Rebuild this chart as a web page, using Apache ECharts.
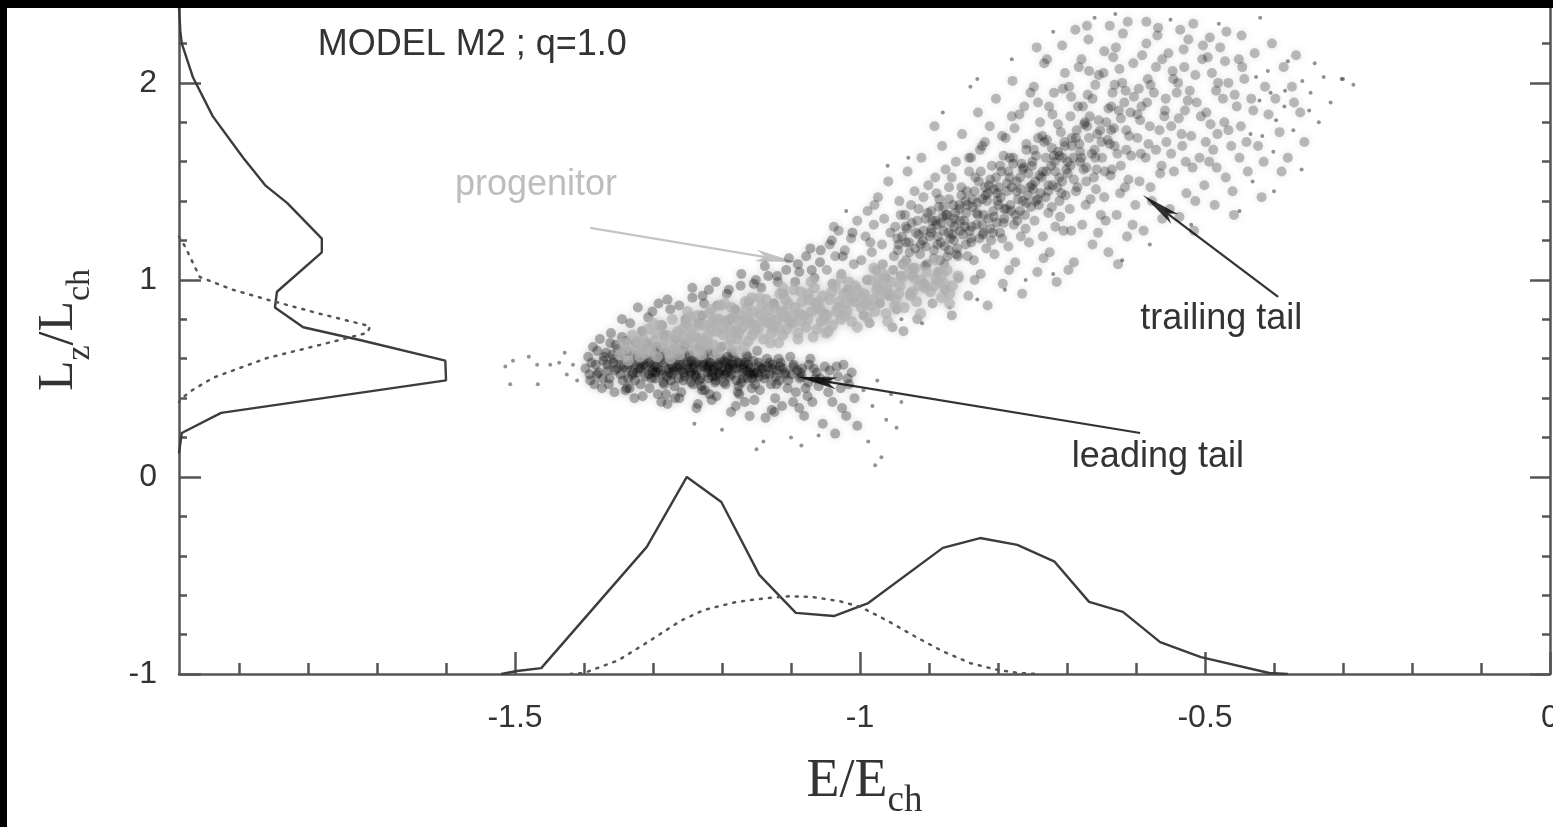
<!DOCTYPE html>
<html>
<head>
<meta charset="utf-8">
<title>MODEL M2 ; q=1.0</title>
<script src="https://cdn.jsdelivr.net/npm/echarts@6/dist/echarts.min.js"></script>
<style>
  html, body { margin: 0; padding: 0; background: #000; overflow: hidden; }
  #chart { position: absolute; left: 7px; top: 8px; width: 1546px; height: 819px; background: #fff; }
</style>
</head>
<body>
<div id="chart"></div>
<script>
// axis ticks
const xMajor = [-1.5, -1, -0.5, 0];
const xMinor = [-1.9, -1.8, -1.7, -1.6, -1.4, -1.3, -1.2, -1.1, -0.9, -0.8, -0.7, -0.6, -0.4, -0.3, -0.2, -0.1];
const yMajor = [-1, 0, 1, 2];
const yMinor = [-0.8, -0.6, -0.4, -0.2, 0.2, 0.4, 0.6, 0.8, 1.2, 1.4, 1.6, 1.8, 2.2];

// histogram of E (drawn on the -1..0 strip)  [E, level]
const eHistAll = [[-1.52,-1.0],[-1.497,-0.985],[-1.462,-0.97],[-1.309,-0.355],[-1.251,0.0],[-1.201,-0.127],[-1.146,-0.497],[-1.093,-0.69],[-1.038,-0.706],[-0.988,-0.64],[-0.88,-0.36],[-0.826,-0.31],[-0.772,-0.345],[-0.718,-0.43],[-0.668,-0.634],[-0.619,-0.685],[-0.565,-0.838],[-0.506,-0.914],[-0.407,-0.995],[-0.38,-1.0]];
const eHistProg = [[-1.42,-1.0],[-1.40,-0.995],[-1.35,-0.93],[-1.304,-0.83],[-1.26,-0.73],[-1.226,-0.675],[-1.18,-0.635],[-1.136,-0.615],[-1.10,-0.605],[-1.068,-0.61],[-1.03,-0.63],[-0.999,-0.66],[-0.96,-0.73],[-0.92,-0.81],[-0.88,-0.885],[-0.84,-0.945],[-0.80,-0.98],[-0.77,-0.995],[-0.74,-1.0]];

// histogram of Lz (drawn against the left edge)  [level, Lz]
const lHistAll = [[-1.987,2.38],[-1.985,2.26],[-1.983,2.2],[-1.967,2.03],[-1.938,1.83],[-1.894,1.62],[-1.862,1.48],[-1.83,1.39],[-1.78,1.21],[-1.78,1.14],[-1.845,0.94],[-1.848,0.86],[-1.807,0.76],[-1.725,0.695],[-1.601,0.59],[-1.60,0.49],[-1.926,0.325],[-1.983,0.223],[-1.987,0.12]];
const lHistProg = [[-1.987,1.22],[-1.978,1.168],[-1.957,1.015],[-1.909,0.95],[-1.859,0.9],[-1.787,0.832],[-1.71,0.765],[-1.714,0.731],[-1.783,0.67],[-1.859,0.604],[-1.938,0.503],[-1.967,0.442],[-1.983,0.40],[-1.987,0.38]];

// particles  [E, Lz]
const leadingTail = [
  [-1.398,0.55],[-1.394,0.61],[-1.391,0.49],[-1.387,0.66],[-1.383,0.57],[-1.381,0.52],[-1.377,0.70],[-1.374,0.45],[-1.372,0.59],[-1.368,0.63],[-1.366,0.54],[-1.363,0.50],[-1.361,0.73],[-1.358,0.58],[-1.356,0.43],[-1.354,0.67],[-1.352,0.55],[-1.371,0.61],[-1.389,0.58],[-1.379,0.53],[-1.359,0.62],[-1.364,0.47],
  [-1.349,0.60],[-1.347,0.52],[-1.345,0.71],[-1.342,0.56],[-1.340,0.44],[-1.338,0.64],[-1.336,0.50],[-1.333,0.78],[-1.331,0.58],[-1.329,0.53],[-1.327,0.40],[-1.325,0.68],[-1.322,0.61],[-1.320,0.55],[-1.318,0.47],[-1.316,0.74],[-1.314,0.57],[-1.311,0.51],[-1.309,0.63],[-1.307,0.81],[-1.305,0.45],[-1.303,0.59],[-1.301,0.54],[-1.343,0.62],[-1.335,0.57],[-1.326,0.49],[-1.317,0.66],[-1.312,0.60],[-1.306,0.52],[-1.339,0.69],
  [-1.299,0.57],[-1.297,0.50],[-1.295,0.66],[-1.293,0.42],[-1.291,0.60],[-1.289,0.54],[-1.287,0.77],[-1.285,0.48],[-1.283,0.58],[-1.281,0.63],[-1.279,0.37],[-1.277,0.55],[-1.275,0.85],[-1.273,0.52],[-1.271,0.61],[-1.269,0.46],[-1.267,0.70],[-1.265,0.56],[-1.263,0.50],[-1.261,0.59],[-1.259,0.43],[-1.257,0.64],[-1.255,0.53],[-1.253,0.80],[-1.251,0.57],[-1.296,0.53],[-1.288,0.59],[-1.280,0.51],[-1.272,0.56],[-1.264,0.62],[-1.256,0.49],[-1.284,0.72],[-1.268,0.40],[-1.292,0.88],
  [-1.249,0.55],[-1.247,0.61],[-1.245,0.48],[-1.243,0.91],[-1.241,0.57],[-1.239,0.52],[-1.237,0.35],[-1.235,0.59],[-1.233,0.66],[-1.231,0.50],[-1.229,0.82],[-1.227,0.56],[-1.225,0.44],[-1.223,0.60],[-1.221,0.53],[-1.219,0.95],[-1.217,0.58],[-1.215,0.39],[-1.213,0.54],[-1.211,0.63],[-1.209,0.49],[-1.207,0.87],[-1.205,0.57],[-1.203,0.52],[-1.201,0.60],[-1.246,0.53],[-1.238,0.58],[-1.230,0.46],[-1.222,0.55],[-1.214,0.51],[-1.206,0.56],[-1.234,0.78],[-1.218,0.42],[-1.226,0.88],
  [-1.199,0.54],[-1.197,0.59],[-1.195,0.47],[-1.193,0.93],[-1.191,0.56],[-1.189,0.51],[-1.187,0.33],[-1.185,0.61],[-1.183,0.55],[-1.181,0.85],[-1.179,0.49],[-1.177,0.58],[-1.175,0.42],[-1.173,0.97],[-1.171,0.53],[-1.169,0.57],[-1.167,0.38],[-1.165,0.62],[-1.163,0.50],[-1.161,0.89],[-1.159,0.55],[-1.157,0.45],[-1.155,0.59],[-1.153,0.52],[-1.151,1.00],[-1.196,0.52],[-1.184,0.57],[-1.172,0.48],[-1.164,0.54],[-1.156,0.50],[-1.188,0.80],[-1.160,0.31],
  [-1.149,0.53],[-1.147,0.58],[-1.145,0.44],[-1.143,0.96],[-1.141,0.55],[-1.139,0.50],[-1.137,0.30],[-1.135,0.60],[-1.133,1.02],[-1.131,0.52],[-1.129,0.47],[-1.127,0.57],[-1.125,0.88],[-1.123,0.40],[-1.121,0.54],[-1.119,0.99],[-1.117,0.49],[-1.115,0.58],[-1.113,0.36],[-1.111,0.93],[-1.109,0.53],[-1.107,1.05],[-1.105,0.45],[-1.146,0.51],[-1.134,0.56],[-1.122,0.51],[-1.112,0.55],[-1.128,0.34],
  [-1.099,0.52],[-1.096,0.57],[-1.093,0.43],[-1.090,1.08],[-1.087,0.50],[-1.084,0.55],[-1.081,0.31],[-1.078,1.12],[-1.075,0.48],[-1.072,0.60],[-1.069,0.38],[-1.066,1.01],[-1.063,0.53],[-1.060,0.46],[-1.057,1.15],[-1.054,0.27],[-1.051,0.56],[-1.094,0.99],[-1.085,0.51],[-1.076,0.41],[-1.067,0.55],[-1.058,0.50],[-1.088,0.35],[-1.070,1.05],
  [-1.048,0.49],[-1.044,0.54],[-1.040,0.38],[-1.036,0.22],[-1.032,0.51],[-1.028,0.45],[-1.024,0.57],[-1.020,0.31],[-1.016,0.47],[-1.012,0.53],[-1.008,0.40],[-1.004,0.26],[-1.046,0.43],[-1.034,0.56],[-1.018,0.50],[-1.026,0.35],
  [-1.318,0.55],[-1.305,0.58],[-1.296,0.56],[-1.286,0.52],[-1.278,0.60],[-1.270,0.54],[-1.262,0.57],[-1.254,0.51],[-1.244,0.59],[-1.236,0.54],[-1.228,0.58],[-1.220,0.50],[-1.212,0.56],[-1.204,0.53],[-1.194,0.58],[-1.186,0.52],[-1.178,0.55],[-1.170,0.50],[-1.162,0.57],[-1.154,0.53],[-1.290,0.63],[-1.274,0.49],[-1.258,0.61],[-1.242,0.47],[-1.226,0.62],[-1.210,0.48],[-1.192,0.61],[-1.176,0.46],[-1.330,0.52],[-1.346,0.57],
  [-1.392,0.52],[-1.357,0.60],[-1.381,0.64],[-1.344,0.49],[-1.366,0.57],[-1.329,0.62],[-1.373,0.50],[-1.338,0.55],[-1.315,0.59],[-1.351,0.65],
  [-1.302,0.50],[-1.323,0.53],[-1.289,0.61],[-1.311,0.56],[-1.276,0.53],[-1.297,0.63],[-1.263,0.55],[-1.284,0.47],[-1.249,0.58],[-1.271,0.64],
  [-1.238,0.51],[-1.259,0.54],[-1.226,0.57],[-1.247,0.62],[-1.215,0.53],[-1.233,0.49],[-1.203,0.59],[-1.221,0.64],[-1.191,0.55],[-1.209,0.51],
  [-1.182,0.60],[-1.197,0.48],[-1.169,0.55],[-1.186,0.63],[-1.158,0.52],[-1.174,0.58],[-1.146,0.56],[-1.163,0.61],[-1.137,0.52],[-1.152,0.47],
  [-1.127,0.55],[-1.118,0.60],[-1.108,0.52],[-1.097,0.56],[-1.086,0.53],[-1.074,0.57],[-1.065,0.50],[-1.121,0.47],[-1.101,0.61],[-1.079,0.45],
  [-1.385,0.47],[-1.362,0.68],[-1.334,0.45],[-1.308,0.68],[-1.281,0.42],[-1.254,0.67],[-1.229,0.44],[-1.201,0.66],[-1.177,0.43],[-1.149,0.64],
  [-1.319,0.58],[-1.293,0.55],[-1.267,0.59],[-1.241,0.55],[-1.217,0.58],[-1.193,0.53],[-1.167,0.58],[-1.142,0.55],[-1.116,0.56],[-1.091,0.54],
  [-1.355,0.54],[-1.327,0.57],[-1.300,0.53],[-1.274,0.57],[-1.245,0.52],[-1.219,0.56],[-1.189,0.57],[-1.160,0.53],[-1.131,0.58],[-1.104,0.49],
  [-1.345,0.80],[-1.322,0.86],[-1.301,0.84],[-1.279,0.90],[-1.262,0.87],[-1.243,0.96],[-1.228,0.92],[-1.209,0.99],[-1.190,0.95],[-1.172,1.03],
  [-1.154,0.98],[-1.138,1.07],[-1.120,1.02],[-1.103,1.11],[-1.088,1.04],[-1.072,1.16],[-1.058,1.09],[-1.041,1.20],[-1.025,1.12],[-1.011,1.24],
  [-1.338,0.45],[-1.315,0.41],[-1.288,0.38],[-1.262,0.40],[-1.235,0.37],[-1.208,0.41],[-1.180,0.36],[-1.153,0.39],[-1.124,0.33],[-1.097,0.38]
];
const trailingTail = [
  [-1.048,1.05],[-1.044,1.18],[-1.040,0.98],[-1.036,1.12],[-1.031,1.25],[-1.027,1.03],[-1.022,1.15],[-1.018,0.95],[-1.013,1.21],[-1.009,1.08],[-1.004,1.30],[-1.038,1.27],
  [-0.998,1.10],[-0.995,0.82],[-0.992,1.22],[-0.989,1.35],[-0.986,0.78],[-0.983,1.14],[-0.980,1.28],[-0.977,1.05],[-0.974,1.42],[-0.971,0.88],[-0.968,1.18],[-0.965,1.31],[-0.962,1.01],[-0.959,1.50],[-0.956,1.24],[-0.953,0.76],[-0.951,1.12],[-0.990,1.00],[-0.979,1.38],[-0.967,1.08],[-0.958,0.92],[-0.985,1.19],
  [-0.949,1.27],[-0.947,0.85],[-0.945,1.15],[-0.943,1.40],[-0.941,1.02],[-0.939,1.22],[-0.937,0.74],[-0.935,1.33],[-0.933,1.10],[-0.931,1.55],[-0.929,1.19],[-0.927,0.93],[-0.925,1.29],[-0.923,1.06],[-0.921,1.45],[-0.919,1.24],[-0.917,0.80],[-0.915,1.36],[-0.913,1.13],[-0.911,1.62],[-0.909,1.20],[-0.907,0.98],[-0.905,1.31],[-0.903,1.08],[-0.901,1.48],[-0.944,1.18],[-0.932,1.26],[-0.920,1.16],[-0.908,1.25],[-0.926,1.38],
  [-0.899,1.22],[-0.897,1.35],[-0.895,0.88],[-0.893,1.15],[-0.891,1.52],[-0.889,1.28],[-0.887,1.04],[-0.885,1.41],[-0.883,1.19],[-0.881,1.68],[-0.879,1.25],[-0.877,0.95],[-0.875,1.33],[-0.873,1.12],[-0.871,1.47],[-0.869,1.21],[-0.867,0.82],[-0.865,1.38],[-0.863,1.27],[-0.861,1.60],[-0.859,1.16],[-0.857,1.01],[-0.855,1.30],[-0.853,1.43],[-0.851,1.23],[-0.896,1.26],[-0.888,1.18],[-0.880,1.32],[-0.872,1.24],[-0.864,1.20],[-0.856,1.36],[-0.884,1.10],[-0.868,1.29],[-0.892,1.78],[-0.876,1.56],[-0.860,1.13],[-0.852,1.74],[-0.878,1.08],
  [-0.849,1.30],[-0.847,1.18],[-0.845,1.45],[-0.843,0.92],[-0.841,1.25],[-0.839,1.62],[-0.837,1.37],[-0.835,1.10],[-0.833,1.52],[-0.831,1.28],[-0.829,1.85],[-0.827,1.21],[-0.825,1.03],[-0.823,1.41],[-0.821,1.33],[-0.819,1.70],[-0.817,1.16],[-0.815,0.87],[-0.813,1.48],[-0.811,1.26],[-0.809,1.58],[-0.807,1.35],[-0.805,1.13],[-0.803,1.92],[-0.801,1.40],[-0.846,1.34],[-0.838,1.27],[-0.830,1.39],[-0.822,1.23],[-0.814,1.31],[-0.806,1.46],[-0.842,1.55],[-0.826,1.66],[-0.810,1.20],[-0.834,1.00],[-0.818,1.43],[-0.802,1.29],[-0.844,1.12],[-0.828,1.50],[-0.812,1.78],
  [-0.799,1.38],[-0.797,1.24],[-0.795,1.55],[-0.793,0.98],[-0.791,1.31],[-0.789,1.72],[-0.787,1.45],[-0.785,1.17],[-0.783,1.62],[-0.781,1.35],[-0.779,2.01],[-0.777,1.28],[-0.775,1.09],[-0.773,1.50],[-0.771,1.41],[-0.769,1.84],[-0.767,1.22],[-0.765,0.93],[-0.763,1.57],[-0.761,1.33],[-0.759,1.66],[-0.757,1.43],[-0.755,1.19],[-0.753,1.95],[-0.751,1.48],[-0.796,1.42],[-0.788,1.36],[-0.780,1.47],[-0.772,1.30],[-0.764,1.40],[-0.756,1.54],[-0.792,1.63],[-0.776,1.77],[-0.760,1.26],[-0.784,1.05],[-0.768,1.52],[-0.752,1.37],[-0.794,1.21],[-0.778,1.59],[-0.762,1.88],
  [-0.749,1.46],[-0.747,1.30],[-0.745,1.63],[-0.743,1.04],[-0.741,1.38],[-0.739,1.80],[-0.737,1.52],[-0.735,1.22],[-0.733,1.70],[-0.731,1.42],[-0.729,2.12],[-0.727,1.34],[-0.725,1.14],[-0.723,1.58],[-0.721,1.48],[-0.719,1.95],[-0.717,1.27],[-0.715,0.99],[-0.713,1.65],[-0.711,1.40],[-0.709,1.75],[-0.707,1.50],[-0.705,1.25],[-0.703,2.05],[-0.701,1.56],[-0.746,1.50],[-0.738,1.44],[-0.730,1.55],[-0.722,1.37],[-0.714,1.47],[-0.706,1.62],[-0.742,1.72],[-0.726,1.88],[-0.710,1.32],[-0.734,1.11],[-0.718,1.60],[-0.702,1.43],[-0.744,2.18],
  [-0.699,1.54],[-0.696,1.36],[-0.693,1.72],[-0.690,1.09],[-0.687,1.45],[-0.684,1.88],[-0.681,1.60],[-0.678,1.28],[-0.675,1.79],[-0.672,1.50],[-0.669,2.22],[-0.666,1.41],[-0.663,1.18],[-0.660,1.66],[-0.657,1.56],[-0.654,2.04],[-0.651,1.33],[-0.697,1.98],[-0.691,1.62],[-0.685,1.47],[-0.679,2.12],[-0.673,1.38],[-0.667,1.83],[-0.661,1.52],[-0.655,1.24],[-0.694,1.25],[-0.682,1.69],[-0.670,1.94],[-0.658,1.46],[-0.688,2.27],[-0.676,1.56],[-0.664,1.64],[-0.652,1.76],[-0.698,1.05],
  [-0.649,1.62],[-0.646,1.42],[-0.643,1.80],[-0.640,1.14],[-0.637,1.53],[-0.634,1.95],[-0.631,1.68],[-0.628,1.33],[-0.625,1.86],[-0.622,1.58],[-0.619,2.25],[-0.616,1.47],[-0.613,1.22],[-0.610,1.73],[-0.607,1.63],[-0.604,2.10],[-0.601,1.38],[-0.647,2.05],[-0.641,1.71],[-0.635,1.56],[-0.629,2.18],[-0.623,1.44],[-0.617,1.90],[-0.611,1.51],[-0.605,1.28],[-0.644,1.30],[-0.632,1.77],[-0.620,2.00],[-0.608,1.85],[-0.638,2.29],[-0.626,1.08],[-0.614,1.66],
  [-0.598,1.72],[-0.595,1.50],[-0.592,1.88],[-0.589,1.25],[-0.586,1.62],[-0.583,2.02],[-0.580,1.78],[-0.577,1.40],[-0.574,1.95],[-0.571,1.66],[-0.568,2.28],[-0.565,1.54],[-0.562,1.31],[-0.559,1.83],[-0.556,1.70],[-0.553,2.15],[-0.596,1.97],[-0.594,1.81],[-0.593,1.64],[-0.585,2.20],[-0.584,1.90],[-0.579,1.47],[-0.571,2.08],[-0.563,1.58],[-0.557,1.92],[-0.551,1.36],
  [-0.549,1.78],[-0.545,1.55],[-0.541,1.95],[-0.537,1.32],[-0.533,1.68],[-0.530,2.08],[-0.529,1.86],[-0.528,1.60],[-0.527,1.44],[-0.524,2.22],[-0.520,1.73],[-0.516,1.25],[-0.512,1.90],[-0.508,1.62],[-0.504,2.12],[-0.501,1.48],[-0.546,2.02],[-0.538,1.82],[-0.531,2.17],[-0.522,1.96],[-0.514,1.40],[-0.506,1.83],
  [-0.498,1.85],[-0.494,1.60],[-0.490,2.05],[-0.486,1.38],[-0.482,1.74],[-0.478,2.18],[-0.474,1.92],[-0.470,1.52],[-0.466,2.00],[-0.462,1.68],[-0.458,1.33],[-0.454,1.88],[-0.451,2.12],[-0.496,2.13],[-0.484,1.96],[-0.472,1.80],[-0.460,1.45],[-0.488,1.66],
  [-0.448,1.78],[-0.443,2.02],[-0.438,1.55],[-0.433,1.92],[-0.428,2.15],[-0.423,1.68],[-0.418,1.42],[-0.413,1.98],[-0.408,1.84],[-0.403,2.20],[-0.440,1.70],[-0.430,1.86],[-0.415,1.60],
  [-0.398,1.92],[-0.392,1.75],[-0.386,2.08],[-0.380,1.62],[-0.374,1.98],[-0.368,2.14],[-0.362,1.85],[-0.356,1.70],[-0.389,1.55],[-0.371,1.90],
  [-0.905,1.17],[-0.895,1.30],[-0.887,1.22],[-0.879,1.37],[-0.871,1.15],[-0.863,1.31],[-0.855,1.25],[-0.847,1.40],[-0.839,1.21],[-0.831,1.34],[-0.823,1.28],[-0.815,1.44],[-0.807,1.24],[-0.799,1.47],[-0.791,1.36],[-0.783,1.52],[-0.775,1.33],[-0.767,1.46],[-0.759,1.39],[-0.751,1.58],[-0.743,1.41],[-0.735,1.55],[-0.727,1.45],[-0.719,1.63],[-0.711,1.52],[-0.703,1.68],[-0.695,1.58],[-0.687,1.72],[-0.679,1.62],[-0.671,1.78],
  [-0.952,1.05],[-0.946,1.21],[-0.938,1.08],[-0.934,1.27],[-0.928,1.14],[-0.923,1.02],[-0.917,1.30],[-0.912,1.18],[-0.906,1.07],[-0.902,1.34],
  [-0.897,1.24],[-0.893,1.11],[-0.886,1.37],[-0.882,1.29],[-0.877,1.17],[-0.871,1.41],[-0.866,1.23],[-0.862,1.34],[-0.858,1.12],[-0.853,1.47],
  [-0.848,1.27],[-0.844,1.38],[-0.839,1.19],[-0.834,1.45],[-0.829,1.33],[-0.825,1.55],[-0.821,1.24],[-0.816,1.40],[-0.811,1.51],[-0.806,1.32],
  [-0.801,1.44],[-0.797,1.58],[-0.792,1.29],[-0.787,1.49],[-0.782,1.38],[-0.778,1.62],[-0.773,1.45],[-0.768,1.35],[-0.764,1.56],[-0.759,1.69],
  [-0.754,1.47],[-0.750,1.60],[-0.745,1.40],[-0.740,1.53],[-0.736,1.73],[-0.731,1.62],[-0.727,1.48],[-0.722,1.67],[-0.717,1.55],[-0.713,1.79],
  [-0.708,1.44],[-0.704,1.70],[-0.699,1.60],[-0.695,1.83],[-0.690,1.51],[-0.686,1.76],[-0.681,1.65],[-0.677,1.88],[-0.672,1.57],[-0.668,1.72],
  [-0.663,1.92],[-0.659,1.62],[-0.654,1.81],[-0.650,1.70],[-0.645,1.55],[-0.640,1.87],[-0.636,1.76],[-0.631,1.99],[-0.627,1.64],[-0.622,1.82],
  [-0.933,1.19],[-0.915,1.23],[-0.891,1.30],[-0.874,1.33],[-0.856,1.38],[-0.837,1.41],[-0.819,1.47],[-0.803,1.52],[-0.785,1.55],[-0.766,1.59],
  [-0.748,1.66],[-0.729,1.71],[-0.711,1.63],[-0.693,1.68],[-0.674,1.80],[-0.656,1.74],[-0.638,1.69],[-0.889,1.44],[-0.842,1.62],[-0.794,1.73],
  [-0.941,1.33],[-0.908,1.42],[-0.867,1.52],[-0.823,1.68],[-0.780,1.83],[-0.742,1.90],[-0.706,1.97],[-0.668,2.06],[-0.633,2.13],[-0.615,1.96],
  [-0.748,1.98],[-0.733,2.10],[-0.721,1.84],[-0.707,2.19],[-0.694,1.93],[-0.683,2.08],[-0.671,2.29],[-0.659,1.99],[-0.646,2.16],[-0.636,1.88],
  [-0.624,2.07],[-0.612,2.31],[-0.603,1.93],[-0.591,2.14],[-0.579,1.99],[-0.569,2.24],[-0.558,1.86],[-0.547,2.06],[-0.536,2.27],[-0.525,1.91],
  [-0.514,2.04],[-0.503,2.19],[-0.492,1.79],[-0.481,2.00],[-0.469,2.26],[-0.457,1.94],[-0.446,2.08],
  [-0.614,1.76],[-0.598,1.84],[-0.582,1.69],[-0.566,1.76],[-0.549,1.64],
  [-0.534,1.74],[-0.518,1.57],[-0.499,1.70],[-0.483,1.57],[-0.466,1.76],[-0.450,1.62],
  [-0.585,2.31],[-0.562,2.12],[-0.539,2.00],[-0.517,2.30],[-0.493,2.23],[-0.471,2.11],[-0.447,2.24]
];
// sparse outskirts: far left of the leading tail, low-Lz spray, right edge of the trailing tail
const strays = [
  [-1.514,0.56],[-1.503,0.59],[-1.480,0.61],[-1.468,0.57],[-1.449,0.57],[-1.507,0.47],[-1.467,0.47],[-1.428,0.63],[-1.416,0.57],[-1.425,0.52],[-1.410,0.49],[-1.436,0.58],
  [-0.995,0.44],[-0.988,0.18],[-0.982,0.36],[-0.975,0.49],[-0.969,0.10],[-0.962,0.29],[-0.955,0.42],[-0.947,0.25],[-0.940,0.38],[-0.978,0.06],
  [-1.140,0.18],[-1.150,0.14],[-1.100,0.20],[-1.085,0.16],[-1.060,0.21],[-1.200,0.24],[-1.240,0.27],
  [-0.66,2.33],[-0.63,2.35],[-0.55,2.32],[-0.48,2.30],[-0.42,2.33],[-0.72,2.26],[-0.78,2.12],[-0.83,2.02],
  [-0.93,1.62],[-0.96,1.58],[-1.02,1.35],[-0.88,1.85],[-0.84,1.98],
  [-0.94,0.80],[-0.91,0.78],[-0.87,0.86],[-0.83,0.90],[-0.79,0.95],[-0.76,1.00],[-0.72,1.03],
  [-0.36,1.56],[-0.40,1.45],[-0.45,1.35],[-0.52,1.28],[-0.58,1.18],[-0.62,1.10],[-0.30,2.02],
  [-0.347,1.95],[-0.341,2.10],[-0.335,1.80],[-0.328,2.03],[-0.318,1.90],[-0.302,2.02],[-0.285,1.99],
  [-0.434,1.74],[-0.431,1.50],[-0.417,1.73],[-0.401,1.65],[-0.385,1.88],[-0.426,2.03],[-0.405,1.95],[-0.380,2.11],
  [-0.397,1.81],[-0.384,1.96],[-0.372,1.76],[-0.359,2.01],[-0.349,1.86],[-0.421,1.91],[-0.409,2.06]
];
const progenitor = [
  [-1.348,0.62],[-1.342,0.68],[-1.336,0.59],[-1.330,0.72],[-1.325,0.65],[-1.319,0.61],[-1.314,0.70],[-1.308,0.75],
  [-1.303,0.64],[-1.298,0.69],[-1.294,0.61],[-1.290,0.77],[-1.285,0.66],[-1.281,0.72],[-1.277,0.63],[-1.272,0.80],[-1.268,0.68],[-1.264,0.74],[-1.259,0.65],[-1.255,0.71],[-1.252,0.78],[-1.262,0.62],
  [-1.248,0.68],[-1.244,0.75],[-1.240,0.64],[-1.236,0.82],[-1.232,0.70],[-1.228,0.66],[-1.224,0.77],[-1.220,0.72],[-1.216,0.85],[-1.212,0.67],[-1.208,0.74],[-1.204,0.80],[-1.246,0.81],[-1.238,0.71],[-1.226,0.69],[-1.214,0.78],[-1.206,0.63],[-1.218,0.83],
  [-1.198,0.72],[-1.194,0.79],[-1.190,0.67],[-1.186,0.86],[-1.182,0.74],[-1.178,0.70],[-1.174,0.82],[-1.170,0.76],[-1.166,0.89],[-1.162,0.69],[-1.158,0.78],[-1.154,0.84],[-1.196,0.88],[-1.188,0.75],[-1.176,0.73],[-1.164,0.80],[-1.156,0.72],[-1.168,0.66],[-1.184,0.81],[-1.152,0.77],
  [-1.148,0.75],[-1.144,0.82],[-1.140,0.70],[-1.136,0.90],[-1.132,0.78],[-1.128,0.73],[-1.124,0.86],[-1.120,0.80],[-1.116,0.93],[-1.112,0.72],[-1.108,0.81],[-1.104,0.88],[-1.146,0.91],[-1.138,0.79],[-1.126,0.76],[-1.114,0.84],[-1.106,0.75],[-1.118,0.68],[-1.134,0.85],[-1.102,0.79],
  [-1.098,0.78],[-1.094,0.86],[-1.090,0.73],[-1.086,0.94],[-1.082,0.82],[-1.078,0.76],[-1.074,0.90],[-1.070,0.84],[-1.066,0.96],[-1.062,0.75],[-1.058,0.85],[-1.054,0.92],[-1.096,0.95],[-1.088,0.83],[-1.076,0.80],[-1.064,0.88],[-1.056,0.79],[-1.068,0.71],[-1.084,0.89],[-1.052,0.83],
  [-1.048,0.82],[-1.044,0.90],[-1.040,0.77],[-1.036,0.97],[-1.032,0.86],[-1.028,0.80],[-1.024,0.93],[-1.020,0.88],[-1.016,0.99],[-1.012,0.79],[-1.008,0.89],[-1.004,0.95],[-1.046,0.74],[-1.034,0.84],[-1.022,0.82],[-1.010,0.91],
  [-0.998,0.86],[-0.994,0.93],[-0.990,0.81],[-0.986,1.00],[-0.982,0.90],[-0.978,0.84],[-0.974,0.97],[-0.970,0.92],[-0.966,1.03],[-0.962,0.83],[-0.958,0.93],[-0.954,0.99],[-0.992,0.88],[-0.976,0.95],
  [-0.948,0.90],[-0.942,0.97],[-0.936,0.86],[-0.930,1.03],[-0.924,0.94],[-0.918,0.89],[-0.912,1.00],[-0.906,0.96],[-0.944,0.93],[-0.920,1.06],
  [-0.898,0.94],[-0.890,1.01],[-0.882,0.91],[-0.874,1.05],[-0.866,0.97],[-0.858,1.02],[-0.886,0.99],[-0.870,0.93],
  [-1.339,0.65],[-1.322,0.69],[-1.311,0.63],[-1.296,0.73],[-1.283,0.69],[-1.270,0.65],[-1.257,0.75],[-1.245,0.71],[-1.233,0.77],[-1.221,0.68],
  [-1.210,0.80],[-1.199,0.76],[-1.187,0.70],[-1.176,0.79],[-1.165,0.85],[-1.153,0.74],[-1.142,0.87],[-1.131,0.81],[-1.119,0.76],[-1.108,0.90],
  [-1.097,0.82],[-1.086,0.79],[-1.075,0.93],[-1.063,0.86],[-1.052,0.80],[-1.041,0.94],[-1.030,0.89],[-1.019,0.84],[-1.007,0.97],[-0.996,0.91],
  [-0.985,0.87],[-0.973,1.01],[-0.961,0.95],[-0.950,0.87],[-0.939,1.01],[-0.927,0.92],[-0.915,0.97],[-0.903,1.04],[-0.893,0.97],[-0.880,1.03],
  [-1.300,0.78],[-1.275,0.60],[-1.250,0.84],[-1.230,0.62],[-1.202,0.87],[-1.180,0.64],[-1.157,0.91],[-1.130,0.68],[-1.112,0.96],[-1.090,0.70],
  [-1.071,0.99],[-1.049,0.73],[-1.027,1.01],[-1.004,0.76],[-0.980,1.06],[-0.960,0.79],[-0.935,1.08],[-0.912,0.83],[-0.890,1.10],[-0.870,0.88],
  [-1.316,0.67],[-1.268,0.72],[-1.215,0.75],[-1.162,0.80],[-1.110,0.84],[-1.060,0.89],[-1.014,0.92],[-0.968,0.97],[-0.922,1.01],[-0.878,0.98]
];

// annotations: [E, Lz] anchors in data units
const notes = [
  { text: 'MODEL M2 ; q=1.0', at: [-1.786, 2.19], color: '#333' },
  { text: 'progenitor', at: [-1.587, 1.48], color: '#bdbdbd' },
  { text: 'trailing tail', at: [-0.594, 0.80], color: '#333' },
  { text: 'leading tail', at: [-0.693, 0.10], color: '#333' }
];
// arrows: [fromE, fromL, toE, toL]
const arrows = [
  [-1.391, 1.264, -1.094, 1.091],
  [-0.394, 0.914, -0.590, 1.431],
  [-0.594, 0.223, -1.091, 0.508]
];
const arrowColors = ['#c4c4c4', '#333', '#333'];

const axisGray = '#555';
const sans = 'Liberation Sans, Arial, sans-serif';
const serif = 'Liberation Serif, Times New Roman, serif';

const chart = echarts.init(document.getElementById('chart'));

function tickAxis(dim, pos, values, len, showLine, labels) {
  const ax = {
    type: 'value',
    position: pos,
    offset: 0,
    axisLine: { show: showLine, onZero: false, lineStyle: { color: axisGray, width: 2.5 } },
    axisTick: { show: true, inside: true, length: len, customValues: values, lineStyle: { color: axisGray, width: 2.5 } },
    axisLabel: { show: false },
    splitLine: { show: false }
  };
  if (dim === 'x') { ax.min = -1.987; ax.max = 0; } else { ax.min = -1; ax.max = 2.38; }
  if (labels) {
    ax.axisLabel = {
      show: true, customValues: values, color: '#333', fontSize: 32, fontFamily: sans,
      margin: dim === 'x' ? 28 : 22
    };
  }
  return ax;
}

const xMain = tickAxis('x', 'bottom', xMajor, 22, true, true);
xMain.name = '{m|E/E}{s|ch}';
xMain.nameLocation = 'middle';
xMain.nameGap = 70;
xMain.nameTextStyle = {
  rich: {
    m: { fontFamily: serif, fontSize: 54, color: '#333', lineHeight: 76 },
    s: { fontFamily: serif, fontSize: 37, color: '#333', lineHeight: 14, verticalAlign: 'bottom' }
  }
};
const yMain = tickAxis('y', 'left', yMajor, 22, true, true);
yMain.axisLabel.verticalAlign = 'middle';
yMain.axisLabel.padding = [16, 0, 0, 0];
yMain.name = '{m|L}{s|z}{m|/L}{s|ch}';
yMain.nameLocation = 'middle';
yMain.nameRotate = 90;
yMain.nameGap = 82;
yMain.nameTextStyle = {
  padding: [0, 0, 0, 22],
  rich: {
    m: { fontFamily: serif, fontSize: 50, color: '#333', lineHeight: 76 },
    s: { fontFamily: serif, fontSize: 34, color: '#333', lineHeight: 14, verticalAlign: 'bottom' }
  }
};

// wide translucent dots with a soft shadow, so crowded areas darken like the printed cloud
const dots = (data, color, size, blur, glow) => ({
  type: 'scatter', data: data, xAxisIndex: 0, yAxisIndex: 0,
  symbol: 'circle', symbolSize: size, silent: true,
  itemStyle: { color: color, shadowBlur: blur, shadowColor: glow }
});
const curve = (data, dotted) => ({
  type: 'line', data: data, xAxisIndex: 0, yAxisIndex: 0,
  showSymbol: false, silent: true, smooth: false,
  lineStyle: dotted
    ? { color: '#555', width: 2.5, type: [2, 7], cap: 'round' }
    : { color: '#3c3c3c', width: 2.4 }
});

chart.setOption({
  animation: false,
  backgroundColor: '#fff',
  grid: { left: 172, top: 0, right: 3, bottom: 153, containLabel: false, outerBoundsMode: 'none' },
  xAxis: [xMain, tickAxis('x', 'bottom', xMinor, 11, false, false)],
  yAxis: [
    yMain,
    tickAxis('y', 'left', yMinor, 8, false, false),
    tickAxis('y', 'right', yMajor, 20, true, false),
    tickAxis('y', 'right', yMinor, 8, false, false)
  ],
  series: [
    dots(strays, 'rgba(30,30,30,0.6)', 4, 0, 'transparent'),
    dots(leadingTail, 'rgba(0,0,0,0.36)', 10, 8, 'rgba(0,0,0,0.5)'),
    dots(trailingTail, 'rgba(0,0,0,0.31)', 10, 8, 'rgba(0,0,0,0.45)'),
    dots(progenitor, 'rgba(178,178,178,0.85)', 11, 8, 'rgba(180,180,180,0.9)'),
    curve(eHistAll, false),
    curve(eHistProg, true),
    curve(lHistAll, false),
    curve(lHistProg, true),
    {
      type: 'custom', coordinateSystem: 'cartesian2d', xAxisIndex: 0, yAxisIndex: 0,
      data: arrows, encode: { x: [0, 2], y: [1, 3] }, silent: true, clip: false,
      renderItem: function (params, api) {
        const p1 = api.coord([api.value(0), api.value(1)]);
        const p2 = api.coord([api.value(2), api.value(3)]);
        const dx = p2[0] - p1[0], dy = p2[1] - p1[1];
        const len = Math.sqrt(dx * dx + dy * dy);
        const ux = dx / len, uy = dy / len;
        const head = 40, half = 6, notch = 30;
        const bx = p2[0] - ux * head, by = p2[1] - uy * head;
        const nx = p2[0] - ux * notch, ny = p2[1] - uy * notch;
        const color = arrowColors[params.dataIndex];
        return {
          type: 'group',
          children: [
            { type: 'line', shape: { x1: p1[0], y1: p1[1], x2: nx, y2: ny }, style: { stroke: color, lineWidth: 2.2 } },
            { type: 'polygon', shape: { points: [p2, [bx - uy * half, by + ux * half], [nx, ny], [bx + uy * half, by - ux * half]] }, style: { fill: color } }
          ]
        };
      }
    },
    {
      type: 'custom', coordinateSystem: 'cartesian2d', xAxisIndex: 0, yAxisIndex: 0,
      data: notes.map(n => n.at), silent: true, clip: false,
      renderItem: function (params, api) {
        const p = api.coord([api.value(0), api.value(1)]);
        const n = notes[params.dataIndex];
        return {
          type: 'text', x: p[0], y: p[1],
          style: { text: n.text, fill: n.color, fontSize: 36, fontFamily: sans, align: 'left', verticalAlign: 'middle' }
        };
      }
    }
  ]
});
</script>
</body>
</html>
